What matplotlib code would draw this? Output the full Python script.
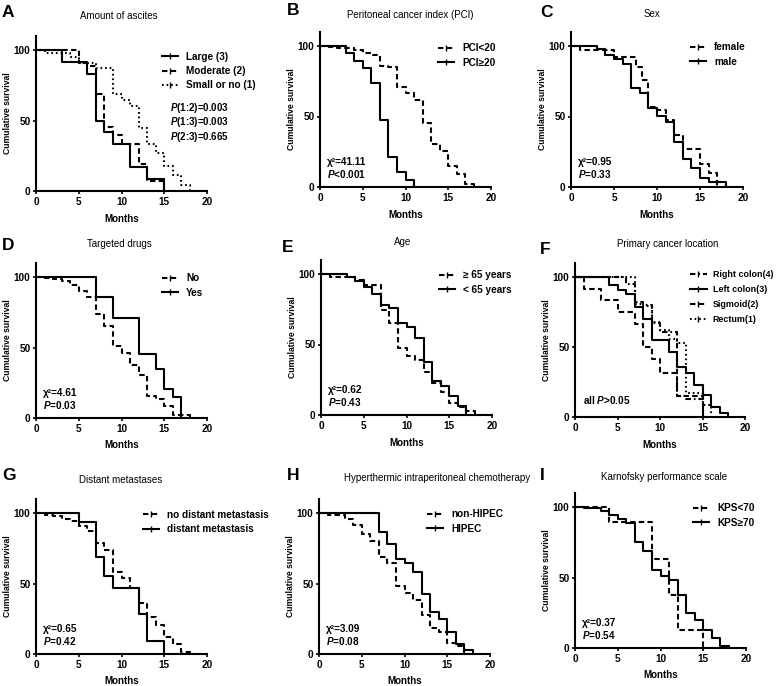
import matplotlib
matplotlib.use("Agg")
import matplotlib.pyplot as plt
from matplotlib.lines import Line2D

plt.rcParams['font.family'] = ['Liberation Sans', 'DejaVu Sans']
plt.rcParams['mathtext.fontset'] = 'custom'
plt.rcParams['mathtext.it'] = 'Liberation Sans:italic:bold'
plt.rcParams['mathtext.rm'] = 'Liberation Sans:bold'
plt.rcParams['mathtext.bf'] = 'Liberation Sans:bold'

# ---------------- data (months, cumulative survival %) ----------------
A_large_t = [3, 6, 7, 8, 9, 11, 13, 15]
A_large_s = [91.7, 83.3, 50, 41.7, 33.3, 16.7, 8.3, 0]
A_mod_t = [5, 6, 7, 8, 9, 10, 12, 13, 15]
A_mod_s = [91, 89, 68.5, 45.5, 39.6, 33.6, 19.4, 6.9, 0]
A_small_t = [1, 4, 5, 7, 9, 10, 11, 12, 13, 14, 15, 16, 17, 18]
A_small_s = [98, 95, 91, 87, 69, 64.5, 60, 45, 33, 27, 18, 11, 4, 0]

B_lo_t = [1, 2, 4, 5, 6, 7, 8, 9, 10, 11, 12, 13, 14, 15, 16, 17, 18]
B_lo_s = [99, 98.5, 97, 95, 93.5, 86, 85, 70.6, 66.4, 61.6, 45.5, 30.8, 25.6, 14.7, 9, 2.4, 0]
B_hi_t = [3, 4, 5, 6, 7, 8, 9, 10, 11]
B_hi_s = [94.7, 89.5, 84.2, 73.7, 47.4, 21.1, 10.5, 5.3, 0]

C_f_t = [1, 5, 7.6, 8.3, 9, 10, 11, 12, 13, 15, 16, 17]
C_f_s = [97, 92, 85, 76, 57, 54.5, 47.5, 37, 27, 16.6, 10, 0]
C_m_t = [3, 4, 5, 6, 7, 8, 9, 10, 11, 12, 13, 14, 15, 16, 18]
C_m_s = [98, 93.5, 91, 87, 70, 66.4, 55.7, 50.2, 46.2, 32, 20, 13.5, 6.6, 3.3, 0]

D_no_t = [1, 2, 3, 4, 5, 6, 7, 8, 9, 10, 11, 12, 13, 14, 15, 16, 18]
D_no_s = [99, 98.5, 97, 94, 90.3, 85.6, 73.8, 65.5, 50.8, 46, 37.8, 30.3, 15.4, 13.7, 8.3, 2.4, 0]
D_yes_t = [7, 9, 12, 14, 15, 16, 17]
D_yes_s = [85.8, 70.9, 45.4, 35, 20.3, 14.9, 0]

E_old_t = [1, 4, 5, 7, 8, 9, 10, 11, 12, 13, 14, 15, 16, 17, 18]
E_old_s = [97.6, 96, 92.2, 74.5, 65, 47.3, 41.8, 39, 30.7, 22.9, 16.5, 8.3, 6, 3, 0]
E_young_t = [3, 4, 5, 6, 7, 8, 9, 10, 11, 12, 13, 14, 15, 16, 17]
E_young_s = [98, 95.3, 90.5, 85.8, 78, 76, 65, 62.6, 54.4, 37.8, 24.3, 20.5, 13.5, 6.4, 0]

F_right_t = [6, 7, 8, 9, 10, 12, 13, 15]
F_right_s = [95, 82, 80, 67, 61, 15, 13, 0]
F_left_t = [4, 5, 6, 7, 8, 9, 11, 12, 13, 14, 15, 16, 17, 18]
F_left_s = [94, 91, 87.6, 78.6, 70.2, 54.8, 46.4, 35.7, 31.4, 23, 15.5, 6.9, 3, 0]
F_sig_t = [1, 3, 5, 7, 8, 9, 10, 12, 15]
F_sig_s = [91.7, 83.3, 75, 66.7, 50, 41.7, 31.4, 15, 0]
F_rect_t = [7, 8, 9, 10, 11, 12, 13, 15, 16]
F_rect_s = [81, 79, 68, 62, 56, 53, 17, 8.3, 0]

G_no_t = [1, 2, 3, 4, 5, 6, 7, 8, 9, 10, 11, 12, 13, 14, 15, 16, 17, 18]
G_no_s = [98.5, 98, 96, 94, 90.8, 87.2, 78.5, 73.8, 58.4, 54, 47, 36, 26.5, 20.6, 12.3, 6.9, 1.7, 0]
G_yes_t = [5, 7, 8, 9, 12, 13, 15]
G_yes_s = [93.8, 68.8, 55, 47, 28.4, 9.5, 0]

H_non_t = [1, 3, 4, 5, 6, 7, 8, 9, 10, 11, 12, 13, 14, 15, 16, 17]
H_non_s = [98.5, 96, 91.5, 85.3, 80, 68.8, 64.5, 48, 43.3, 38, 27.4, 18.2, 15.5, 7.8, 6, 0]
H_yes_t = [7, 8, 9, 10, 11, 12, 13, 14, 15, 16, 17, 18]
H_yes_s = [86.5, 78.3, 67.6, 64.5, 58, 42.5, 30, 24.6, 15.6, 7.3, 3, 0]

I_lo_t = [4, 9, 11, 12, 15]
I_lo_s = [89.1, 63.4, 37.8, 12.5, 0]
I_hi_t = [1, 3, 4, 5, 6, 7, 8, 9, 10, 11, 12, 13, 14, 15, 16, 17, 18]
I_hi_s = [99, 97, 94.5, 91.5, 89, 75.2, 68.6, 55.6, 50.8, 48.5, 37.4, 24.8, 20.1, 12.5, 7.1, 1.7, 0]

x_ticks = [0, 5, 10, 15, 20]
y_ticks = [0, 50, 100]

# ---------------- styles ----------------
SOLID = '-'
DASH = (0, (2.6, 1.6))
DOT = (0, (0.8, 1.4))
DASHDOT = (0, (2.6, 1.4, 0.8, 1.4))

W, H = 778, 686
fig = plt.figure(figsize=(W / 100, H / 100), dpi=100)

def rect(x0, x20, y100, y0):
    sc = (y0 - y100) / 100.0
    top = y0 - 110 * sc
    return [x0 / W, 1 - y0 / H, (x20 - x0) / W, (y0 - top) / H]

panels = [
    dict(letter='A', title='Amount of ascites', box=(36, 207, 50, 191), letter_xy=(2, 5), title_xy=(119, 16),
         curves=[(A_large_t, A_large_s, SOLID, 'Large (3)'), (A_mod_t, A_mod_s, DASH, 'Moderate (2)'),
                 (A_small_t, A_small_s, DOT, 'Small or no (1)')],
         leg=(162, 56, 86), notes=[]),
    dict(letter='B', title='Peritoneal cancer index (PCI)', box=(320, 491, 46, 187), letter_xy=(287, 3), title_xy=(410, 15),
         curves=[(B_lo_t, B_lo_s, DASH, 'PCI<20'), (B_hi_t, B_hi_s, SOLID, 'PCI≥20')],
         leg=(438, 48, 63), notes=['χ²=41.11', '$P$<0.001']),
    dict(letter='C', title='Sex', box=(571, 743, 46, 187), letter_xy=(540, 5), title_xy=(652, 14),
         curves=[(C_f_t, C_f_s, DASH, 'female'), (C_m_t, C_m_s, SOLID, 'male')],
         leg=(690, 47, 62), notes=['χ²=0.95', '$P$=0.33']),
    dict(letter='D', title='Targeted drugs', box=(36, 207, 277, 418), letter_xy=(2, 238), title_xy=(119, 244),
         curves=[(D_no_t, D_no_s, DASH, 'No'), (D_yes_t, D_yes_s, SOLID, 'Yes')],
         leg=(162, 277, 294), notes=['χ²=4.61', '$P$=0.03']),
    dict(letter='E', title='Age', box=(321, 492, 274, 415), letter_xy=(282, 240), title_xy=(403, 242),
         curves=[(E_old_t, E_old_s, DASH, '≥ 65 years'), (E_young_t, E_young_s, SOLID, '< 65 years')],
         leg=(439, 275, 290), notes=['χ²=0.62', '$P$=0.43']),
    dict(letter='F', title='Primary cancer location', box=(575, 745, 277, 417), letter_xy=(540, 242), title_xy=(668, 244),
         curves=[(F_right_t, F_right_s, DASHDOT, 'Right colon(4)'), (F_left_t, F_left_s, SOLID, 'Left colon(3)'),
                 (F_sig_t, F_sig_s, DASH, 'Sigmoid(2)'), (F_rect_t, F_rect_s, DOT, 'Rectum(1)')],
         leg=(690, 275, 319), notes=[]),
    dict(letter='G', title='Distant metastases', box=(36, 207, 513, 654), letter_xy=(2, 468), title_xy=(121, 480),
         curves=[(G_no_t, G_no_s, DASH, 'no distant metastasis'), (G_yes_t, G_yes_s, SOLID, 'distant metastasis')],
         leg=(143, 515, 529), notes=['χ²=0.65', '$P$=0.42']),
    dict(letter='H', title='Hyperthermic intraperitoneal chemotherapy', box=(319, 490, 513, 654), letter_xy=(287, 468),
         title_xy=(437, 478),
         curves=[(H_non_t, H_non_s, DASH, 'non-HIPEC'), (H_yes_t, H_yes_s, SOLID, 'HIPEC')],
         leg=(427, 514, 529), notes=['χ²=3.09', '$P$=0.08']),
    dict(letter='I', title='Karnofsky performance scale', box=(575, 746, 507, 648), letter_xy=(540, 468), title_xy=(664, 477),
         curves=[(I_lo_t, I_lo_s, DASH, 'KPS<70'), (I_hi_t, I_hi_s, SOLID, 'KPS≥70')],
         leg=(693, 508, 523), notes=['χ²=0.37', '$P$=0.54']),
]

for p in panels:
    ax = fig.add_axes(rect(*p['box']))
    handles = []
    for t, s, ls, lab in p['curves']:
        ax.step([0] + list(t), [100] + list(s), where='post', color='black', lw=1.5,
                linestyle=ls, clip_on=False, solid_capstyle='butt', dash_capstyle='butt')
        handles.append(Line2D([0], [0], color='black', lw=1.5, linestyle=ls, marker='|',
                              markersize=4, markeredgewidth=1.0))
    ax.set_xlim(0, 20)
    ax.set_ylim(0, 110)
    ax.set_xticks(x_ticks)
    ax.set_yticks(y_ticks)
    for sp in ['top', 'right']:
        ax.spines[sp].set_visible(False)
    for sp in ['left', 'bottom']:
        ax.spines[sp].set_linewidth(1.5)
    ax.tick_params(direction='out', length=2.5, width=1.2, pad=1.5, labelsize=7.2)
    for lbl in ax.get_xticklabels() + ax.get_yticklabels():
        lbl.set_fontweight('bold')
    ax.set_xlabel('Months', fontsize=7, fontweight='bold', labelpad=5)
    ax.set_ylabel('Cumulative survival', fontsize=6.2, fontweight='bold', labelpad=1.5)

    if p['letter'] == 'F':
        leg_kw = dict(handlelength=1.9, handletextpad=0.67, labelspacing=0.65, prop=dict(size=6.4, weight='bold'))
    else:
        leg_kw = dict(handlelength=1.6, handletextpad=0.8, labelspacing=0.45, prop=dict(size=7.2, weight='bold'))
    lx, ly1, ly2 = p['leg']
    ax.legend(handles, [c[3] for c in p['curves']], loc='center left',
              bbox_to_anchor=(lx / W, 1 - (ly1 + ly2) / 2 / H), bbox_transform=fig.transFigure,
              frameon=False, borderpad=0, borderaxespad=0, numpoints=1, **leg_kw)

    if p['letter'] == 'A':
        for i, txt in enumerate(['$P$(1:2)=0.003', '$P$(1:3)=0.003', '$P$(2:3)=0.665']):
            ax.text(15.7, 59 - 10.2 * i, txt, fontsize=7.0, fontweight='bold', va='center', ha='left')
    elif p['letter'] == 'F':
        ax.text(0.9, 12, 'all $P$>0.05', fontsize=7.2, fontweight='bold', va='center', ha='left')
    else:
        ax.text(0.8, 17.5, p['notes'][0], fontsize=7.2, fontweight='bold', va='center', ha='left')
        ax.text(0.8, 9.2, p['notes'][1], fontsize=7.2, fontweight='bold', va='center', ha='left')

    fig.text(p['title_xy'][0] / W, 1 - p['title_xy'][1] / H, p['title'], fontsize=7, ha='center', va='center')
    fig.text(p['letter_xy'][0] / W, 1 - p['letter_xy'][1] / H, p['letter'], fontsize=12.5, fontweight='bold',
             ha='left', va='top')

fig.savefig('out.png', dpi=100)
